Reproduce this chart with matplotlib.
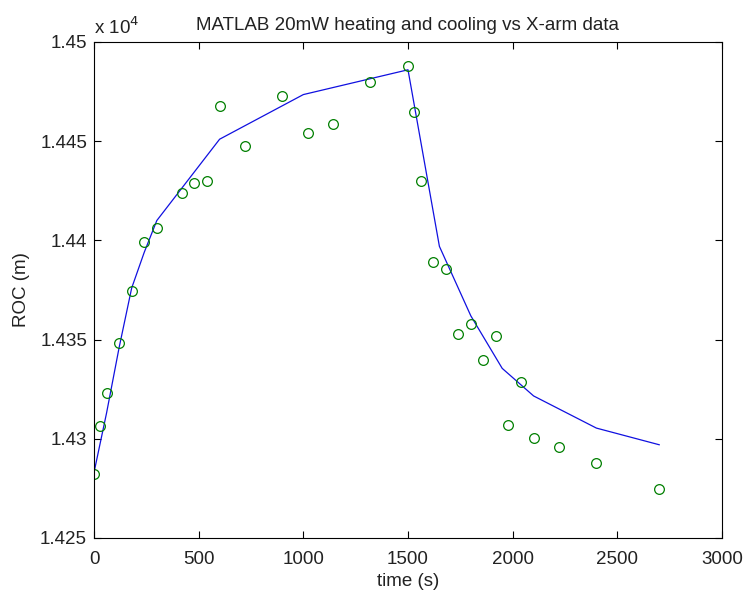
import matplotlib
matplotlib.use("Agg")
import matplotlib.pyplot as plt
from matplotlib.ticker import FuncFormatter

# measured X-arm data (time in s, ROC in m)
data_time = [0, 30, 60, 120, 180, 240, 300, 420, 480, 540, 600, 720, 900, 1020,
             1140, 1320, 1500, 1530, 1560, 1620, 1680, 1740, 1800, 1860, 1920,
             1980, 2040, 2100, 2220, 2400, 2700]
data_roc = [14282.1, 14306.5, 14322.9, 14348.1, 14374.6, 14399.3, 14406.1,
            14423.7, 14428.8, 14429.9, 14467.7, 14447.6, 14472.9, 14454.3,
            14458.5, 14479.7, 14487.9, 14464.6, 14429.9, 14389.3, 14385.4,
            14352.8, 14357.7, 14339.7, 14351.8, 14306.9, 14328.8, 14300.2,
            14296.0, 14287.9, 14274.5]

# MATLAB model curve
model_time = [0, 30, 60, 120, 180, 240, 300, 600, 1000, 1500,
              1650, 1800, 1950, 2100, 2400, 2700]
model_roc = [14283, 14298, 14313, 14346, 14376, 14394, 14410, 14451, 14473.5, 14486,
             14397, 14362, 14335.5, 14321.6, 14305.4, 14297]

XTICKS = [0, 500, 1000, 1500, 2000, 2500, 3000]
YTICKS = [14250, 14300, 14350, 14400, 14450, 14500]

plt.rcParams['font.family'] = ['Liberation Sans', 'DejaVu Sans']
FS = 13.5
TXT = '#222222'

fig = plt.figure(figsize=(7.44, 5.90), dpi=100)
ax = fig.add_axes([94 / 744, 52 / 590, 628 / 744, 496 / 590])

ax.plot(model_time, model_roc, color='#1010e0', linewidth=0.9)
ax.plot(data_time, data_roc, linestyle='none', marker='o', markersize=7,
        markerfacecolor='none', markeredgecolor='#007f00', markeredgewidth=0.9)

ax.set_xlim(0, 3000)
ax.set_ylim(14250, 14500)
ax.set_xticks(XTICKS)
ax.set_yticks(YTICKS)
ax.yaxis.set_major_formatter(FuncFormatter(lambda v, p: f"{v / 1e4:g}"))
ax.tick_params(direction='in', top=True, right=True, length=5, width=0.8,
               labelsize=FS, colors='black', labelcolor=TXT)
ax.tick_params(axis='x', pad=9)
ax.tick_params(axis='y', pad=5)
for s in ax.spines.values():
    s.set_linewidth(0.8)

ax.text(0, 1.008, r'x 10$^{4}$', transform=ax.transAxes, ha='left', va='bottom',
        fontsize=FS, color=TXT)
ax.set_title("MATLAB 20mW heating and cooling vs X-arm data", fontsize=FS, pad=9,
             color=TXT)
ax.set_xlabel("time (s)", fontsize=FS, labelpad=4, color=TXT)
ax.set_ylabel("ROC (m)", fontsize=FS, labelpad=7, color=TXT)

fig.savefig("out.png", dpi=100, facecolor='white')
